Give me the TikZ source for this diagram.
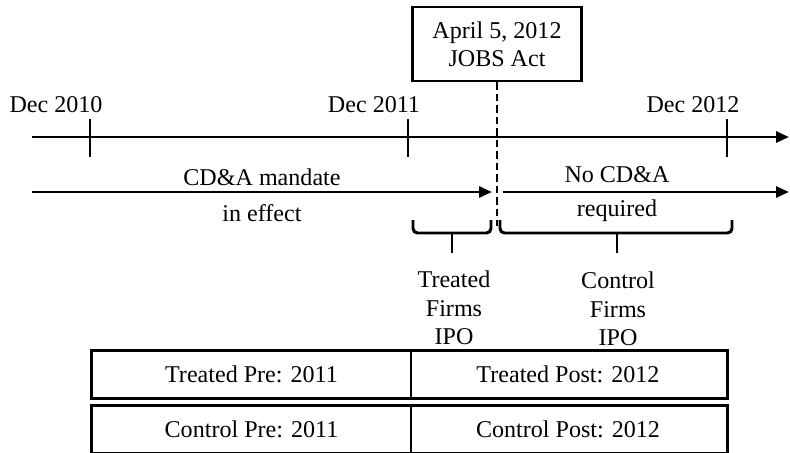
\documentclass[tikz,border=0pt]{standalone}
\usepackage{fontspec}
\setmainfont{Liberation Serif}
\usetikzlibrary{arrows.meta}
\begin{document}
\begin{tikzpicture}[x=0.2mm, y=-0.2mm, line width=1.7pt,
					arrow/.style={-{Triangle[length=0.26cm, width=0.22cm]}},
					bracket/.style={rounded corners=0.9mm},
					txt/.style={inner sep=0pt, align=center},
					cell/.style={inner sep=0pt, minimum width=6.33cm, minimum height=0.9cm},
					act/.style={draw, line width=1.2pt, minimum width=3.38cm, minimum height=1.48cm, align=center}]
\fontsize{13.7}{16.1}\selectfont
\useasboundingbox (0,0) rectangle (790,452);

% timeline
\coordinate (start) at (32,137);
\coordinate (end) at (789,137);
\draw[arrow] (start) -- (end);
\foreach \x/\year [count=\i] in {90/2010, 408/2011, 727/2012}
{
    \coordinate (top\i) at (\x,119);
    \coordinate (bot\i) at (\x,157);
    \draw (top\i) -- (bot\i);
    \node[txt] (dec\i) at (\x-34,105) {Dec \year};
}

% JOBS Act
\node[act] (jobs) at (497,44) {April 5, 2012\\JOBS Act};
\coordinate (cut) at (497,226);
\draw[dash pattern=on 1.5mm off 0.8mm] (jobs.south) -- (cut);

% regimes
\coordinate (preL) at (32,192);
\coordinate (preR) at (492,192);
\coordinate (postL) at (503,192);
\coordinate (postR) at (789,192);
\draw[arrow] (preL) -- (preR);
\draw[arrow] (postL) -- (postR);
\node[txt] (mandate) at (262,177) {CD\&A mandate};
\node[txt] (effect) at (262,213) {in effect};
\node[txt] (nocda) at (617,175) {No CD\&A};
\node[txt] (required) at (617,211) {required};

% braces
\foreach \l/\m/\r [count=\i] in {413/452/491, 500/617/732}
{
    \coordinate (bl\i) at (\l,220);
    \coordinate (bm\i) at (\m,233);
    \coordinate (br\i) at (\r,220);
    \coordinate (tip\i) at (\m,253);
    \draw[bracket] (bl\i) |- (bm\i) -| (br\i);
    \draw (bm\i) -- (tip\i);
}
\node[txt] (treated) at (454,308) {Treated\\Firms\\IPO};
\node[txt] (control) at (618,309) {Control\\Firms\\IPO};

% groups
\node[cell] (tpre) at (251.5,374.5) {Treated Pre: 2011};
\node[cell] (tpost) at (568,374.5) {Treated Post: 2012};
\node[cell] (cpre) at (251.5,429) {Control Pre: 2011};
\node[cell] (cpost) at (568,429) {Control Post: 2012};
\draw (tpre.north west) rectangle (tpost.south east);
\draw (cpre.north west) rectangle (cpost.south east);
\draw[line width=1pt] (tpre.north east) -- (tpre.south east);
\draw[line width=1pt] (cpre.north east) -- (cpre.south east);
\end{tikzpicture}
\end{document}
